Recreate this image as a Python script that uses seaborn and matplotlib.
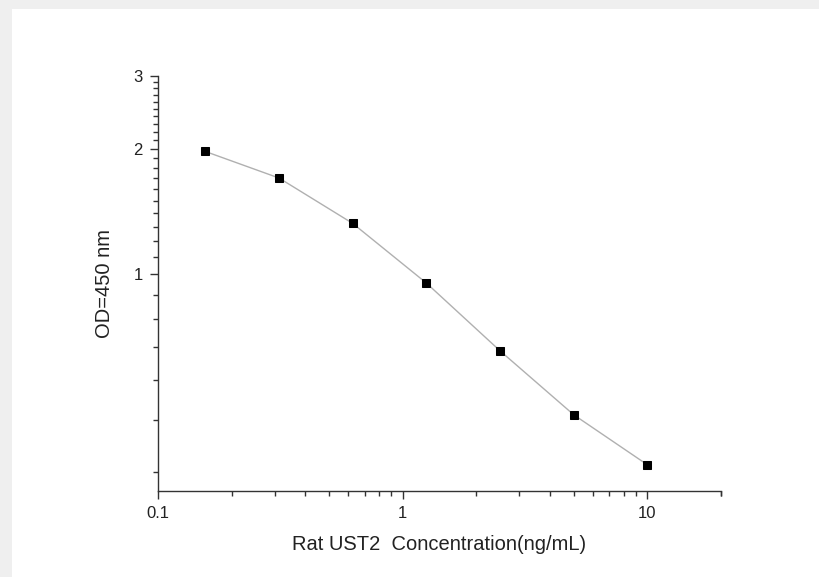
import matplotlib
matplotlib.use('Agg')
import matplotlib.pyplot as plt
import matplotlib.ticker as mticker
from matplotlib.patches import Rectangle
import pandas as pd
import seaborn as sns

# standard curve values
conc = [0.156, 0.3125, 0.625, 1.25, 2.5, 5, 10]
od = [1.974, 1.703, 1.324, 0.951, 0.653, 0.458, 0.347]

x_major = [0.1, 1, 10]
x_labels = ['0.1', '1', '10']
y_major = [1, 2, 3]
y_labels = ['1', '2', '3']

df = pd.DataFrame({'conc': conc, 'od': od})

sns.set_style('ticks')
plt.rcParams['font.family'] = ['Liberation Sans', 'DejaVu Sans']

fig = plt.figure(figsize=(8.19, 5.77), dpi=100)
fig.patch.set_facecolor('#efefef')
# white panel, leaving the grey strip on top and left
fig.add_artist(Rectangle((12 / 819, 0), 1, (577 - 9) / 577, transform=fig.transFigure,
                         facecolor='white', edgecolor='none', zorder=-10))

ax = fig.add_axes([158 / 819, 86 / 577, 563 / 819, 415 / 577])
ax.patch.set_alpha(0)

sns.lineplot(data=df, x='conc', y='od', ax=ax, color='#b0b0b0', linewidth=1,
             marker='s', markersize=6, markerfacecolor='black', markeredgecolor='black')

ax.set_xscale('log')
ax.set_yscale('log')
ax.set_xlim(0.1, 20)
ax.set_ylim(0.3, 3)

ax.xaxis.set_major_locator(mticker.FixedLocator(x_major))
ax.xaxis.set_major_formatter(mticker.FixedFormatter(x_labels))
ax.xaxis.set_minor_locator(mticker.FixedLocator(
    [m * d for d in (0.1, 1, 10) for m in range(2, 10)] + [20]))
ax.xaxis.set_minor_formatter(mticker.NullFormatter())

ax.yaxis.set_major_locator(mticker.FixedLocator(y_major))
ax.yaxis.set_major_formatter(mticker.FixedFormatter(y_labels))
y_minor = [1 - k / 9 for k in range(1, 7)] + [1 + k / 10 for k in range(1, 10)] + [2 + k / 10 for k in range(1, 10)]
ax.yaxis.set_minor_locator(mticker.FixedLocator(y_minor))
ax.yaxis.set_minor_formatter(mticker.NullFormatter())

sns.despine(ax=ax)
for s in ('left', 'bottom'):
    ax.spines[s].set_color('#333333')
    ax.spines[s].set_linewidth(1)

ax.tick_params(which='major', direction='out', length=6, width=1, color='#333333',
               labelsize=12, labelcolor='#222222', pad=5)
ax.tick_params(which='minor', direction='out', length=3.5, width=1, color='#333333')

ax.set_xlabel('Rat UST2  Concentration(ng/mL)', fontsize=14.5, color='#222222', labelpad=10)
ax.set_ylabel('OD=450 nm', fontsize=14.5, color='#222222', labelpad=14)

fig.savefig('out.png', dpi=100, facecolor=fig.get_facecolor())
